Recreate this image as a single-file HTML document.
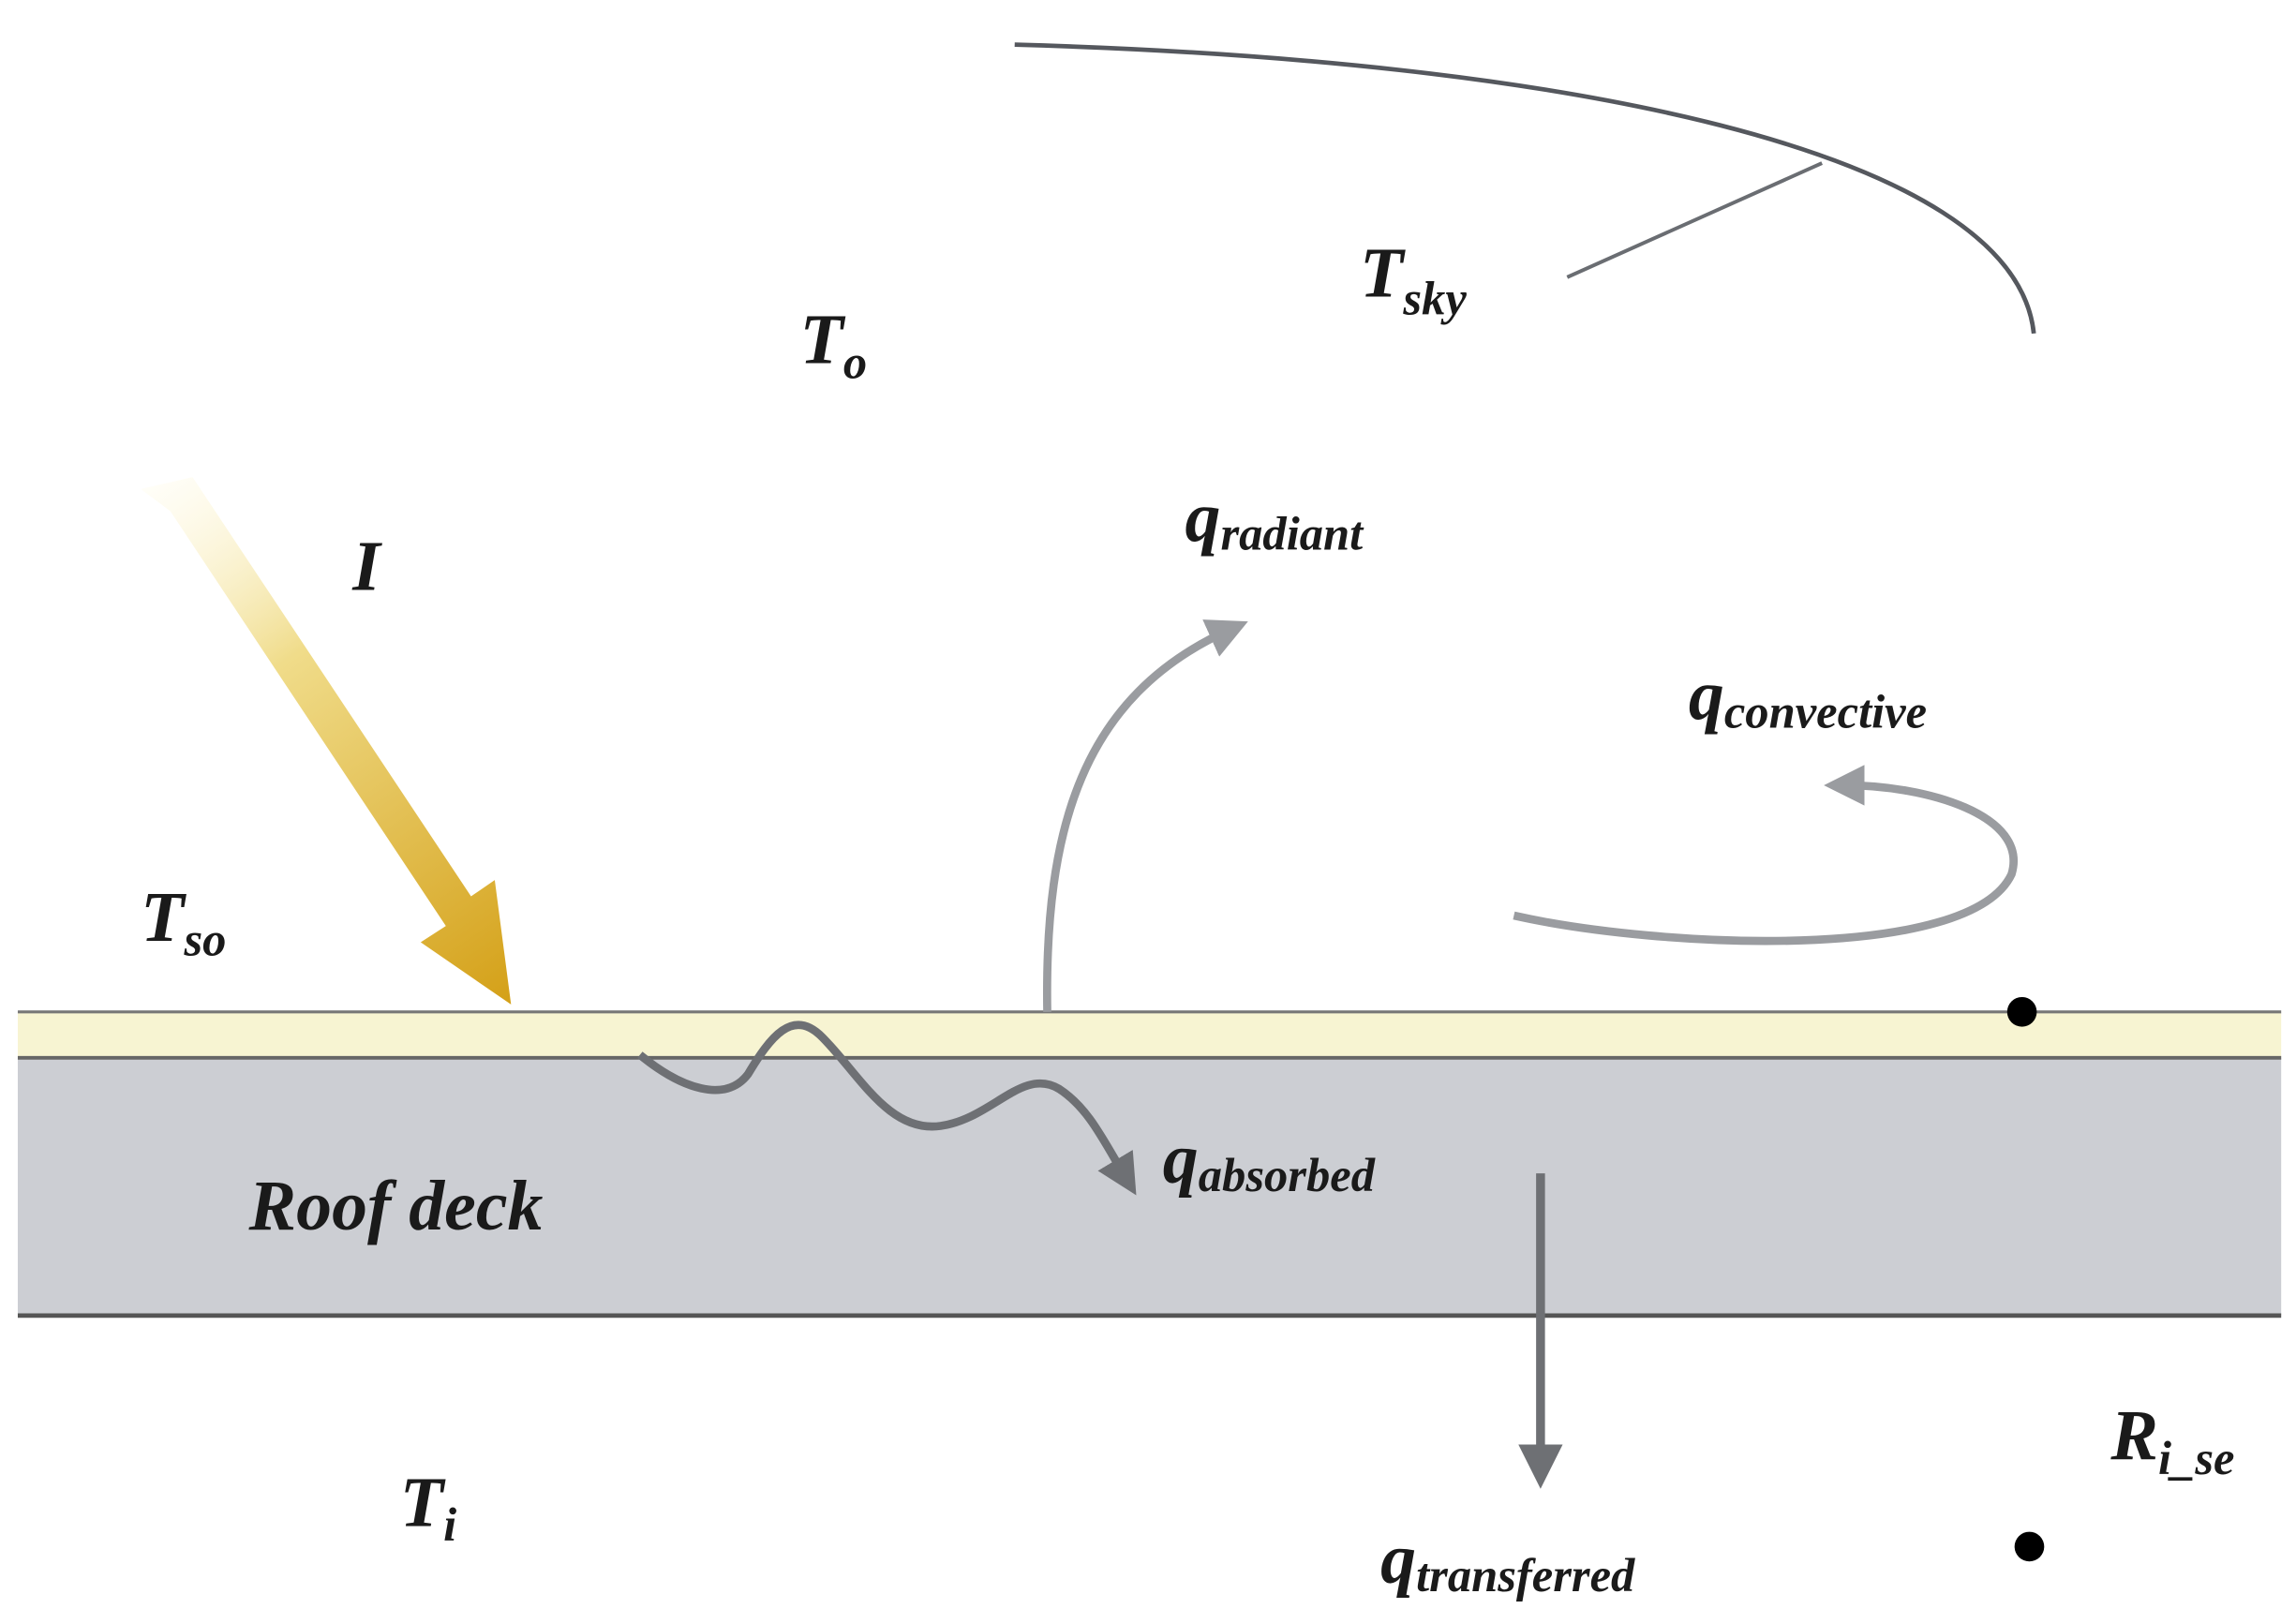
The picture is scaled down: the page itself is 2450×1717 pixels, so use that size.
<!DOCTYPE html>
<html><head><meta charset="utf-8"><style>
html,body{margin:0;padding:0;background:#fff;}
svg{display:block;}
text{font-family:"Liberation Serif",serif;font-style:italic;font-weight:bold;fill:#1a1a1a;}
</style></head><body>
<svg width="2450" height="1717" viewBox="0 0 1550 1086" xmlns="http://www.w3.org/2000/svg">
<defs>
<linearGradient id="sun" x1="105" y1="325" x2="345" y2="678" gradientUnits="userSpaceOnUse">
<stop offset="0" stop-color="#fffbe6" stop-opacity="0.3"/>
<stop offset="0.35" stop-color="#f0dc8a"/>
<stop offset="1" stop-color="#d4a017"/>
</linearGradient>
<marker id="ah" viewBox="0 0 10 10" refX="5" refY="5" markerWidth="5" markerHeight="5" orient="auto-start-reverse">
<path d="M0,0 L10,5 L0,10 z" fill="#9a9ca0"/></marker>
<marker id="ahd" viewBox="0 0 10 10" refX="5" refY="5" markerWidth="5" markerHeight="5" orient="auto-start-reverse">
<path d="M0,0 L10,5 L0,10 z" fill="#6e7074"/></marker>
</defs>
<path d="M685,30 C1050,40 1360,100 1373,225" fill="none" stroke="#55585e" stroke-width="3"/>
<line x1="1058" y1="187" x2="1230" y2="110" stroke="#6a6d72" stroke-width="2.5"/>
<rect x="12" y="714" width="1528" height="174" fill="#ccced3"/>
<rect x="12" y="683" width="1528" height="31" fill="#f7f4d2"/>
<line x1="12" y1="683" x2="1540" y2="683" stroke="#777" stroke-width="2"/>
<line x1="12" y1="714" x2="1540" y2="714" stroke="#666" stroke-width="2.5"/>
<line x1="12" y1="888" x2="1540" y2="888" stroke="#555" stroke-width="3"/>
<path d="M95,330 L130,322 L318,605 L334,594 L345,678 L284,636 L301,625 L115,345 Z" fill="url(#sun)"/>
<path d="M707,683 C705,560 730,470 830,425" fill="none" stroke="#9a9ca0" stroke-width="5.5" marker-end="url(#ah)"/>
<path d="M1022,618 C1120,640 1330,650 1358,590 C1370,550 1300,530 1245,530" fill="none" stroke="#9a9ca0" stroke-width="5.5" marker-end="url(#ah)"/>
<path d="M432,712 C460,735 490,745 505,725 C520,700 535,680 555,700 C580,725 600,765 635,760 C670,755 690,720 715,735 C735,748 745,770 760,795" fill="none" stroke="#6e7074" stroke-width="5.5" marker-end="url(#ahd)"/>
<line x1="1040" y1="792" x2="1040" y2="990" stroke="#6e7074" stroke-width="6" marker-end="url(#ahd)"/>
<circle cx="1365" cy="683" r="10" fill="#000"/>
<circle cx="1370" cy="1044" r="10" fill="#000"/>
<text x="540" y="245" font-size="48">T<tspan font-size="32" dy="10">o</tspan></text>
<text x="918" y="200" font-size="48">T<tspan font-size="32" dy="12">sky</tspan></text>
<text x="238" y="398" font-size="48">I</text>
<text x="800" y="365" font-size="48">q<tspan font-size="32" dy="6">radiant</tspan></text>
<text x="1140" y="485" font-size="48">q<tspan font-size="32" dy="6">convective</tspan></text>
<text x="95" y="635" font-size="48">T<tspan font-size="32" dy="10">so</tspan></text>
<text x="168" y="830" font-size="48">Roof deck</text>
<text x="785" y="798" font-size="48">q<tspan font-size="32" dy="6">absorbed</tspan></text>
<text x="270" y="1030" font-size="48">T<tspan font-size="32" dy="10">i</tspan></text>
<text x="1425" y="985" font-size="48">R<tspan font-size="32" dy="10">i_se</tspan></text>
<text x="932" y="1068" font-size="48">q<tspan font-size="32" dy="6">transferred</tspan></text>
</svg>
</body></html>
